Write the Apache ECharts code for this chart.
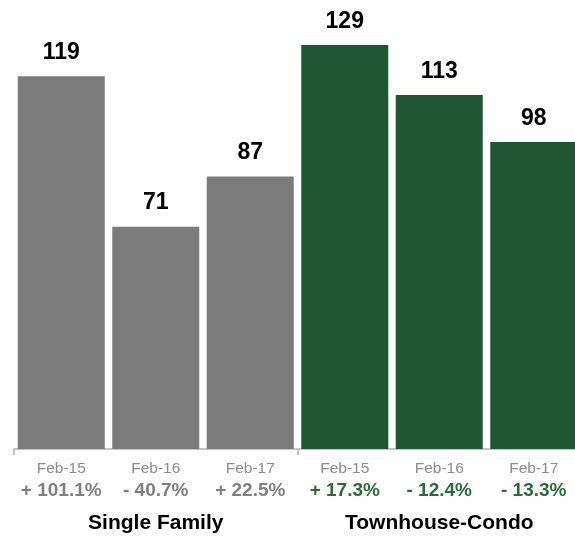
<!DOCTYPE html>
<html>
<head>
<meta charset="utf-8">
<script src="https://cdn.jsdelivr.net/npm/echarts@6/dist/echarts.min.js"></script>
<style>
  html, body { margin: 0; padding: 0; background: #fff; }
  #chart { width: 575px; height: 537px; }
</style>
</head>
<body>
<div id="chart"></div>
<script>
// Monthly counts by property type, February of each year
const groups = ['Single Family', 'Townhouse-Condo'];
const periods = ['Feb-15', 'Feb-16', 'Feb-17', 'Feb-15', 'Feb-16', 'Feb-17'];
const singleFamily = [119, 71, 87];
const townhouseCondo = [129, 113, 98];
const changes = ['+ 101.1%', '- 40.7%', '+ 22.5%', '+ 17.3%', '- 12.4%', '- 13.3%'];

const GRAY = '#7a7b7a';
const GREEN = '#1f5633';
const FONT = '"Liberation Sans", Arial, Helvetica, sans-serif';

const values = singleFamily.concat(townhouseCondo);
const barData = values.map((v, i) => ({
  value: v,
  itemStyle: { color: i < singleFamily.length ? GRAY : GREEN }
}));

const chart = echarts.init(document.getElementById('chart'));
chart.setOption({
  animation: false,
  textStyle: { fontFamily: FONT },
  grid: {
    left: 14, top: 45, width: 567, height: 404,
    containLabel: false,
    outerBoundsMode: 'none'
  },
  xAxis: [
    {
      type: 'category',
      data: periods,
      position: 'bottom',
      axisLine: { show: true, lineStyle: { color: '#c4c4c4', width: 2 } },
      axisTick: {
        show: true,
        alignWithLabel: false,
        length: 6,
        interval: (index) => index % 3 === 0,
        lineStyle: { color: '#c4c4c4', width: 2 }
      },
      axisLabel: {
        interval: 0,
        margin: 10,
        fontFamily: FONT,
        formatter: (value, index) =>
          '{p|' + value + '}\n' + (index < 3 ? '{g|' : '{t|') + changes[index] + '}',
        rich: {
          p: { fontSize: 15.5, color: '#8c8c8c', lineHeight: 20, fontFamily: FONT },
          g: { fontSize: 19, fontWeight: 'bold', color: '#7f7f7f', lineHeight: 24, fontFamily: FONT },
          t: { fontSize: 19, fontWeight: 'bold', color: '#2a6a3d', lineHeight: 24, fontFamily: FONT }
        }
      }
    },
    {
      type: 'category',
      data: groups,
      position: 'bottom',
      offset: 56,
      axisLine: { show: false },
      axisTick: { show: false },
      axisLabel: {
        interval: 0,
        fontSize: 21,
        fontWeight: 'bold',
        color: '#000',
        fontFamily: FONT
      }
    }
  ],
  yAxis: {
    type: 'value',
    min: 0,
    max: 129,
    show: false,
    splitLine: { show: false }
  },
  series: [
    {
      type: 'bar',
      xAxisIndex: 0,
      data: barData,
      barWidth: 87,
      label: {
        show: true,
        position: 'top',
        distance: 12,
        fontSize: 23,
        fontWeight: 'bold',
        color: '#000',
        fontFamily: FONT
      }
    }
  ]
});
</script>
</body>
</html>
